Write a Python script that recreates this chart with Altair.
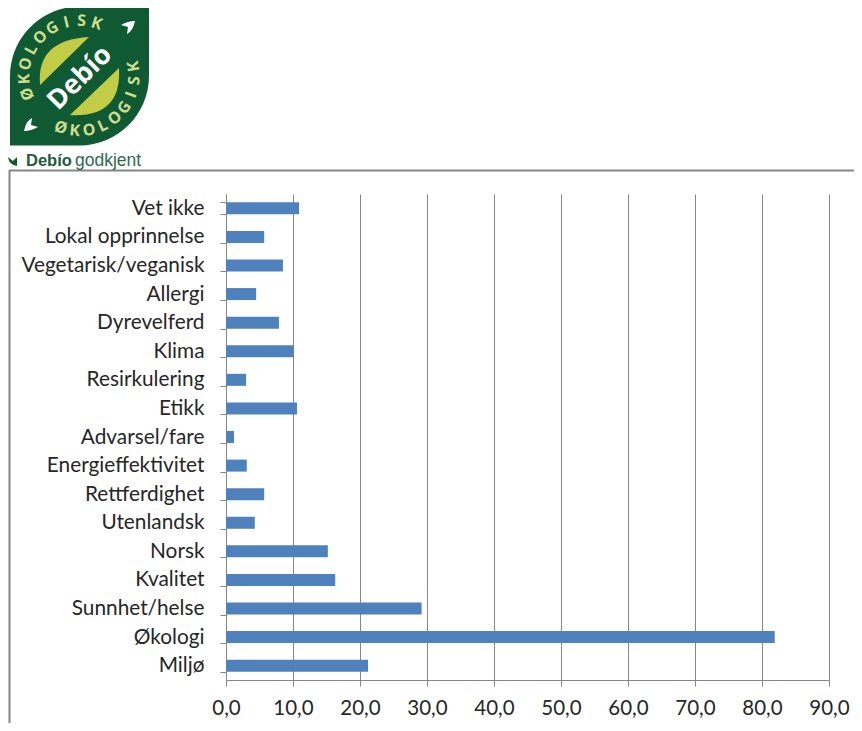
import math
import altair as alt
import pandas as pd

categories = ["Vet ikke", "Lokal opprinnelse", "Vegetarisk/veganisk", "Allergi", "Dyrevelferd",
              "Klima", "Resirkulering", "Etikk", "Advarsel/fare", "Energieffektivitet",
              "Rettferdighet", "Utenlandsk", "Norsk", "Kvalitet", "Sunnhet/helse", "Økologi", "Miljø"]
values = [10.9, 5.7, 8.5, 4.5, 7.9, 10.1, 3.0, 10.6, 1.2, 3.1, 5.7, 4.3, 15.2, 16.3, 29.2, 81.9, 21.2]
x_ticks = [0, 10, 20, 30, 40, 50, 60, 70, 80, 90]

PLOT_L, PLOT_T, PLOT_W, PLOT_H = 226, 194, 603, 486
PAGE_R, PAGE_B = 854, 723
FONT = "Lato"
GREEN, LIME, PALE = "#0f5a32", "#c3cc45", "#cfdc8c"
one = alt.Data(values=[{"a": 1}])
def px(v): return alt.value(v - PLOT_L)
def py(v): return alt.value(v - PLOT_T)

df = pd.DataFrame({"cat": categories, "val": values})
bars = alt.Chart(df).mark_bar(color="#4f81bd").encode(
    x=alt.X("val:Q", scale=alt.Scale(domain=[0, 90], nice=False),
            axis=alt.Axis(title=None, values=x_ticks, labelExpr="replace(format(datum.value,'.1f'),'.',',')",
                          labelFont=FONT, labelFontSize=20.5, labelColor="#262626", labelPadding=12,
                          labelOverlap=False, labelBound=False, labelFlush=False,
                          grid=True, gridColor="#868686", gridWidth=1, domainColor="#868686",
                          tickColor="#868686", tickSize=6)),
    y=alt.Y("cat:N", sort=categories, scale=alt.Scale(paddingInner=0.58, paddingOuter=0.29),
            axis=alt.Axis(title=None, labelFont=FONT, labelFontSize=20.8, labelColor="#262626", labelPadding=16,
                          domainColor="#868686", tickColor="#868686", tickSize=6, tickBand="extent",
                          grid=False, labelLimit=220)),
)
layers = [bars]

# frame
frame = "#868686"
layers.append(alt.Chart(one).mark_rule(color=frame, strokeWidth=2).encode(x=px(9.5), y=py(170), y2=py(PAGE_B)))
layers.append(alt.Chart(one).mark_rule(color=frame, strokeWidth=2).encode(x=px(9), x2=px(PAGE_R), y=py(170.5)))

# logo shapes, in a -1..1 box centred on the logo
CX, CY, R = 79.5, 76.0, 69.5
def u(x, y): return f"{(x-CX)/R:.3f},{(y-CY)/R:.3f}"
leaf = "M1,-1 L1,0 C1,0.55 0.55,1 0,1 L-1,1 L-1,0 C-1,-0.55 -0.55,-1 0,-1 Z"
lens = (f"M{u(40,85)} Q{u(36,40)} {u(89,37)} Z "
        f"M{u(119,68)} Q{u(122,118)} {u(70,115)} Z")
arrows = (f"M{u(135,21)} Q{u(133,31)} {u(127,34)} L{u(128,27)} L{u(121,25)} Q{u(128,21)} {u(135,21)} Z "
          f"M{u(24,131)} Q{u(26,121)} {u(32,118)} L{u(31,125)} L{u(38,127)} Q{u(31,131)} {u(24,131)} Z")
sprig = (f"M{u(8,157)} Q{u(9,165)} {u(17,166)} L{u(17,157)} L{u(13,161)} Z")
for path, col in [(leaf, GREEN), (lens, LIME), (arrows, "#ffffff"), (sprig, GREEN)]:
    layers.append(alt.Chart(one).mark_point(shape=path, filled=True, fill=col, strokeWidth=0, opacity=1,
                                            size=(2 * R) ** 2).encode(x=px(CX), y=py(CY)))

# logo text
def ring(word, a0, a1, radius, upper):
    for i, ch in enumerate(word):
        th = a0 + (a1 - a0) * i / (len(word) - 1)
        x = CX + radius * math.cos(math.radians(th))
        y = CY - radius * math.sin(math.radians(th))
        rot = (90 - th if upper else -90 - th) % 360
        layers.append(alt.Chart(one).mark_text(text=ch, font="Open Sans", fontWeight="bold", fontSize=16, color=PALE,
                                               angle=rot, align="center", baseline="middle")
                      .encode(x=px(x), y=py(y)))
ring("ØKOLOGISK", 199, 72, 55, True)
ring("ØKOLOGISK", -110, 10, 55, False)

layers.append(alt.Chart(one).mark_text(text="Debío", font="Open Sans", fontWeight="bold", fontSize=27, color="#ffffff",
                                       angle=315, align="center", baseline="middle").encode(x=px(80), y=py(78)))
layers.append(alt.Chart(one).mark_text(text="Debío", font="Liberation Sans", fontWeight="bold", fontSize=16.5, color="#1d5a40",
                                       align="left", baseline="alphabetic").encode(x=px(26), y=py(166)))
layers.append(alt.Chart(one).mark_text(text="godkjent", font="Liberation Sans", fontSize=17.5, color="#2f6a50",
                                       align="left", baseline="alphabetic").encode(x=px(75), y=py(166)))

chart = alt.layer(*layers).properties(
    width=PLOT_W, height=PLOT_H, background="#ffffff",
    autosize=alt.AutoSizeParams(type="none"),
    padding={"left": PLOT_L - 8, "top": PLOT_T - 8, "right": PAGE_R - PLOT_L - PLOT_W, "bottom": PAGE_B - PLOT_T - PLOT_H},
).configure_view(stroke=None)

chart.save("out.html", embed_options={"renderer": "svg", "actions": False})
